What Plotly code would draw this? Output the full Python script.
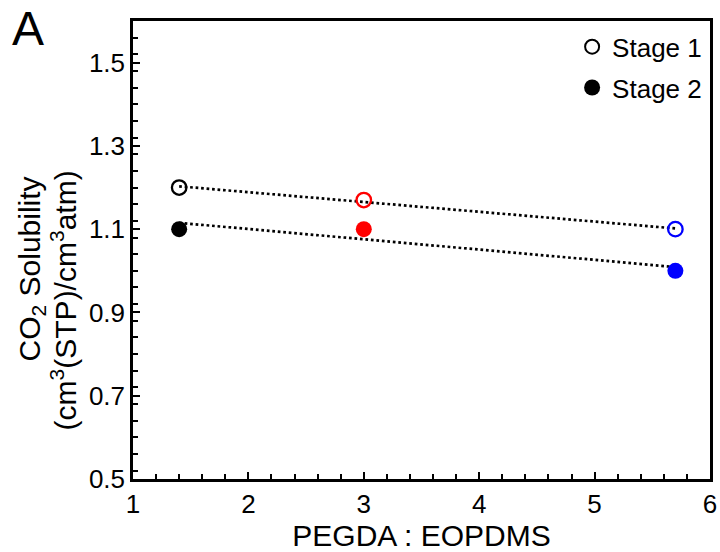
import numpy as np
import plotly.graph_objects as go

# ---- data ----
ratio = [1.4, 3.0, 5.7]                 # PEGDA : EOPDMS
stage1 = [1.20, 1.17, 1.10]             # CO2 solubility, stage 1 (open)
stage2 = [1.10, 1.10, 1.00]             # CO2 solubility, stage 2 (filled)
point_colors = ["black", "red", "blue"]
series_names = ["Stage 1", "Stage 2"]

FONT = "Liberation Sans, Arial, Helvetica, sans-serif"

fig = go.Figure()

# dotted linear trend lines
for ys in (stage1, stage2):
    k, b = np.polyfit(ratio, ys, 1)
    xs = [min(ratio), max(ratio)]
    fig.add_trace(go.Scatter(
        x=xs, y=[k * v + b for v in xs], mode="lines",
        line=dict(color="black", width=2.7, dash="2.7px,2.8px"),
        showlegend=False, hoverinfo="skip"))

# data points
fig.add_trace(go.Scatter(
    x=ratio, y=stage1, mode="markers", showlegend=False,
    marker=dict(symbol="circle-open", size=14.5, color=point_colors,
                line=dict(width=2.3))))
fig.add_trace(go.Scatter(
    x=ratio, y=stage2, mode="markers", showlegend=False,
    marker=dict(symbol="circle", size=16, color=point_colors)))

# legend entries (black symbols)
fig.add_trace(go.Scatter(
    x=[None], y=[None], mode="markers", name=series_names[0], legendgroup="a",
    marker=dict(symbol="circle-open", size=14, color="black", line=dict(width=2))))
fig.add_trace(go.Scatter(
    x=[None], y=[None], mode="markers", name=series_names[1], legendgroup="b",
    marker=dict(symbol="circle", size=16, color="black")))

axis_common = dict(
    showline=True, linecolor="black", linewidth=2.5, mirror=True,
    ticks="inside", tickcolor="black", tickwidth=2, ticklen=7,
    showgrid=False, zeroline=False,
    tickfont=dict(family=FONT, size=26, color="black"),
)

fig.update_xaxes(
    range=[1, 6], tick0=1, dtick=1,
    minor=dict(ticks="inside", dtick=0.2, ticklen=5, tickwidth=2, tickcolor="black"),
    title=dict(text="PEGDA : EOPDMS", font=dict(family=FONT, size=30, color="black"),
               standoff=9),
    ticklabeloverflow="allow",
    **axis_common)
fig.update_yaxes(
    range=[0.5, 1.6], tick0=0.5, dtick=0.2, tickformat=".1f",
    minor=dict(ticks="inside", dtick=0.04, ticklen=5, tickwidth=2, tickcolor="black"),
    **axis_common)

# y-axis title (two lines) and panel label
fig.add_annotation(text="CO<sub>2</sub> Solubility", textangle=-90,
                   xref="paper", yref="paper", x=0, y=0.4575,
                   xanchor="center", yanchor="middle", xshift=-102,
                   showarrow=False, font=dict(family=FONT, size=30, color="black"))
fig.add_annotation(text="(cm<sup>3</sup>(STP)/cm<sup>3</sup>atm)", textangle=-90,
                   xref="paper", yref="paper", x=0, y=0.39,
                   xanchor="center", yanchor="middle", xshift=-69,
                   showarrow=False, font=dict(family=FONT, size=30, color="black"))
fig.add_annotation(text="A", xref="paper", yref="paper", x=0, y=1,
                   xanchor="center", yanchor="middle", xshift=-105, yshift=-7,
                   showarrow=False, font=dict(family=FONT, size=48, color="black"))

fig.update_layout(
    width=720, height=552,
    margin=dict(l=133, r=3, t=21, b=72),
    paper_bgcolor="white", plot_bgcolor="white",
    showlegend=True,
    legend=dict(x=0.995, y=0.995, xanchor="right", yanchor="top",
                bgcolor="rgba(0,0,0,0)", borderwidth=0,
                font=dict(family=FONT, size=26, color="black"),
                itemwidth=30, tracegroupgap=4),
)

fig.write_html("out.html")
